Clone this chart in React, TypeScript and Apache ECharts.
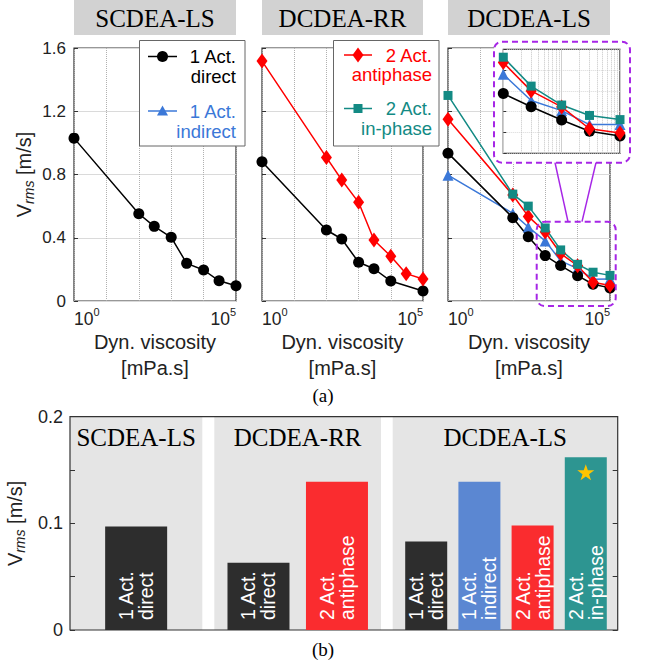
import React, { useEffect, useRef } from 'react';
import * as echarts from 'echarts';

// ---------- data ----------
const viscosity = [1, 100, 300, 1000, 3000, 10000, 30000, 100000];
const viscosityRRDirect = [1, 100, 300, 1000, 3000, 10000, 100000];
const scLsDirect = [1.03, 0.552, 0.472, 0.403, 0.238, 0.196, 0.128, 0.097];
const rrDirect = [0.88, 0.449, 0.392, 0.245, 0.204, 0.126, 0.063];
const rrAntiphase = [1.517, 0.908, 0.765, 0.624, 0.386, 0.283, 0.173, 0.139];
const lsDirect = [0.935, 0.527, 0.406, 0.287, 0.224, 0.16, 0.106, 0.083];
const lsIndirect = [0.796, 0.554, 0.468, 0.38, 0.254, 0.205, 0.138, 0.139];
const lsAntiphase = [1.15, 0.67, 0.535, 0.436, 0.3, 0.223, 0.118, 0.098];
const lsInphase = [1.3, 0.676, 0.6, 0.462, 0.323, 0.232, 0.182, 0.162];
const insetMinViscosity = 1000;
const insetMinorGrid = [2000, 3000, 4000, 5000, 6000, 7000, 8000, 9000, 20000, 30000, 40000, 50000, 60000, 70000, 80000, 90000];

const groups = ['SCDEA-LS', 'DCDEA-RR', 'DCDEA-LS'];
const barLabelsSC = ['1 Act.\ndirect'];
const barValuesSC = [0.097];
const barLabelsRR = ['1 Act.\ndirect', '2 Act.\nantiphase'];
const barValuesRR = [0.063, 0.139];
const barLabelsLS = ['1 Act.\ndirect', '1 Act.\nindirect', '2 Act.\nantiphase', '2 Act.\nin-phase'];
const barValuesLS = [0.083, 0.139, 0.098, 0.162];
const bestIndexLS = 3;

// ---------- styles ----------
const FONT = "'Liberation Sans', Arial, Helvetica, sans-serif";
const SERIF = "'Liberation Serif', 'Times New Roman', Times, serif";
const C_BLACK = '#000000';
const C_BLUE = '#3b78d8';
const C_RED = '#ff0000';
const C_TEAL = '#138a84';
const BAR_DARK = '#2d2d2d';
const BAR_RED = '#fa2c2f';
const BAR_BLUE = '#5b87d2';
const BAR_TEAL = '#2d9591';
const PURPLE = '#a626e6';
const TXT = '#222222';

const zip = (xs: number[], ys: number[]) => xs.map((x, i) => [x, ys[i]]);

const barColor = (label: string) => {
  if (label.includes('indirect')) return BAR_BLUE;
  if (label.includes('antiphase')) return BAR_RED;
  if (label.includes('in-phase')) return BAR_TEAL;
  return BAR_DARK;
};

const yNameRich = {
  v: { fontSize: 20, fontFamily: FONT, color: TXT, lineHeight: 24 },
  s: { fontSize: 14, fontStyle: 'italic', fontFamily: FONT, color: TXT, verticalAlign: 'bottom' },
  n: { fontSize: 20, fontFamily: FONT, color: TXT, lineHeight: 24 },
};
const yName = '{v|V}{s|rms}{n| [m/s]}';

function buildOption() {
  const panelLeft = [74, 262, 448];
  const panelWidth = [162, 161, 162];
  const pTop = 48;
  const pHeight = 253;

  const grids: any[] = [];
  const xAxes: any[] = [];
  const yAxes: any[] = [];
  const series: any[] = [];

  // ---- top panels ----
  for (let i = 0; i < 3; i++) {
    grids.push({
      left: panelLeft[i], top: pTop, width: panelWidth[i], height: pHeight,
      show: true, borderColor: '#333', borderWidth: 1.2, backgroundColor: 'transparent',
      outerBoundsMode: 'none',
    });
    xAxes.push({
      type: 'log', logBase: 10, min: 1, max: 100000, gridIndex: i, splitNumber: 5,
      axisLine: { show: false }, axisTick: { show: false },
      splitLine: { show: true, lineStyle: { type: 'dotted', color: '#b0b0b0', width: 1 } },
      axisLabel: {
        margin: 5,
        alignMinLabel: 'left',
        alignMaxLabel: 'right',
        formatter: (v: number) => {
          const e = Math.round(Math.log10(v));
          if (e === 0 || e === 5) return `{b|10}{s|${e}}`;
          return '';
        },
        rich: {
          b: { fontSize: 17.5, fontFamily: FONT, color: TXT, lineHeight: 26 },
          s: { fontSize: 11, fontFamily: FONT, color: TXT, verticalAlign: 'top' },
        },
      },
      name: 'Dyn. viscosity\n[mPa.s]', nameLocation: 'middle', nameGap: 26,
      nameTextStyle: { fontSize: 20, lineHeight: 26, fontFamily: FONT, color: TXT },
    });
    yAxes.push({
      type: 'value', min: 0, max: 1.6, interval: 0.4, gridIndex: i,
      axisLine: { show: false },
      axisTick: { show: true, inside: true, length: 4, lineStyle: { color: '#333' } },
      axisLabel: { show: i === 0, fontSize: 17, fontFamily: FONT, color: TXT, margin: 8 },
      splitLine: { show: true, lineStyle: { color: '#dadada', type: 'solid' } },
      name: i === 0 ? yName : '', nameLocation: 'middle', nameGap: 38, nameRotate: 90,
      nameTextStyle: { rich: yNameRich },
    });
  }

  // ---- inset ----
  grids.push({
    left: 503.3, top: 49.3, width: 116.7, height: 104,
    show: true, backgroundColor: '#ffffff', borderColor: '#222', borderWidth: 1.2, z: 4,
    outerBoundsMode: 'none',
  });
  xAxes.push({
    type: 'log', logBase: 10, min: insetMinViscosity, max: 100000, gridIndex: 3, z: 4,
    axisLine: { show: false }, axisTick: { show: false }, axisLabel: { show: false },
    splitLine: { show: true, lineStyle: { color: '#cfcfcf', type: 'solid' } },
  });
  yAxes.push({
    type: 'value', min: 0, max: 0.5, interval: 0.1, gridIndex: 3, z: 4,
    axisLine: { show: false }, axisLabel: { show: false },
    axisTick: { show: true, inside: true, length: 3, lineStyle: { color: '#333' } },
    splitLine: { show: true, lineStyle: { color: '#d8d8d8', type: 'dotted' } },
  });

  const lineSeries = (name: string, xs: number[], ys: number[], color: string, symbol: string, size: any, axis: number, z = 2) => ({
    name, type: 'line', xAxisIndex: axis, yAxisIndex: axis, z,
    data: zip(xs, ys),
    symbol, symbolSize: size,
    itemStyle: { color },
    lineStyle: { color, width: 1.5 },
    emphasis: { disabled: true },
  });

  series.push(lineSeries('1 Act. direct', viscosity, scLsDirect, C_BLACK, 'circle', 11, 0));
  series.push(lineSeries('1 Act. direct', viscosityRRDirect, rrDirect, C_BLACK, 'circle', 11, 1));
  series.push(lineSeries('2 Act. antiphase', viscosity, rrAntiphase, C_RED, 'diamond', [11, 15], 1));
  series.push(lineSeries('1 Act. indirect', viscosity, lsIndirect, C_BLUE, 'triangle', 11, 2));
  series.push(lineSeries('1 Act. direct', viscosity, lsDirect, C_BLACK, 'circle', 11, 2));
  series.push(lineSeries('2 Act. antiphase', viscosity, lsAntiphase, C_RED, 'diamond', [11, 15], 2));
  series.push(lineSeries('2 Act. in-phase', viscosity, lsInphase, C_TEAL, 'rect', 9, 2));

  // inset (same data, viscosity >= insetMinViscosity)
  const keep = viscosity.map((v, i) => (v >= insetMinViscosity ? i : -1)).filter((i) => i >= 0);
  const sub = (arr: number[]) => keep.map((i) => arr[i]);
  const insX = sub(viscosity);
  series.push({
    type: 'line', xAxisIndex: 3, yAxisIndex: 3, z: 4.5,
    data: zip(insX, sub(lsDirect)), showSymbol: false, symbol: 'none',
    lineStyle: { opacity: 0 }, silent: true,
    markLine: {
      silent: true, symbol: ['none', 'none'], label: { show: false },
      lineStyle: { type: 'dotted', color: '#c4c4c4', width: 1 },
      emphasis: { disabled: true },
      data: insetMinorGrid.map((v) => ({ xAxis: v })),
    },
  });
  series.push(lineSeries('1 Act. indirect', insX, sub(lsIndirect), C_BLUE, 'triangle', 11, 3, 5));
  series.push(lineSeries('1 Act. direct', insX, sub(lsDirect), C_BLACK, 'circle', 11, 3, 5));
  series.push(lineSeries('2 Act. antiphase', insX, sub(lsAntiphase), C_RED, 'diamond', [11, 15], 3, 5));
  series.push(lineSeries('2 Act. in-phase', insX, sub(lsInphase), C_TEAL, 'rect', 9, 3, 5));

  // ---- bottom bar chart ----
  const bTop = 416.7;
  const bHeight = 213.3;
  const regions = [
    { left: 70, width: 132.3, min: -0.5, max: 0.5, barWidth: 62, labels: barLabelsSC, values: barValuesSC },
    { left: 214.3, width: 166.7, min: -0.563, max: 1.561, barWidth: 62, labels: barLabelsRR, values: barValuesRR },
    { left: 392.7, width: 225, min: -0.63, max: 3.6, barWidth: 42, labels: barLabelsLS, values: barValuesLS },
  ];
  regions.forEach((r, k) => {
    const gi = 4 + k;
    grids.push({
      left: r.left, top: bTop, width: r.width, height: bHeight,
      show: true, backgroundColor: '#e5e5e5', borderWidth: 0, outerBoundsMode: 'none',
    });
    xAxes.push({ type: 'value', gridIndex: gi, min: r.min, max: r.max, show: false });
    yAxes.push({ type: 'value', gridIndex: gi, min: 0, max: 0.2, show: false });
    const s: any = {
      name: groups[k], type: 'bar', xAxisIndex: gi, yAxisIndex: gi, barWidth: r.barWidth,
      emphasis: { disabled: true },
      data: r.labels.map((lab, i) => ({ name: lab, value: [i, r.values[i]], itemStyle: { color: barColor(lab) } })),
      label: {
        show: true, position: 'insideBottom', rotate: 90, align: 'left', verticalAlign: 'middle',
        distance: 10, color: '#ffffff', fontSize: 19.5, lineHeight: 20, fontFamily: FONT,
        formatter: (p: any) => p.name,
      },
    };
    if (k === 2) {
      s.markPoint = {
        silent: true,
        symbol: 'path://M50,0 L61.8,35.1 L98.8,35.1 L68.8,57 L80.2,92.1 L50,70.5 L19.8,92.1 L31.2,57 L1.2,35.1 L38.2,35.1 Z',
        symbolSize: [17, 16],
        symbolOffset: [0, 15],
        itemStyle: { color: '#ffc400' },
        label: { show: false },
        data: [{ coord: [bestIndexLS, r.values[bestIndexLS]] }],
      };
    }
    series.push(s);
  });

  // frame grid with y axis
  grids.push({
    left: 70, top: bTop, width: 547.7, height: bHeight,
    show: true, backgroundColor: 'transparent', borderColor: '#333', borderWidth: 1.2, z: 1,
    outerBoundsMode: 'none',
  });
  xAxes.push({ type: 'value', gridIndex: 7, min: 0, max: 1, show: false });
  yAxes.push({
    type: 'value', gridIndex: 7, min: 0, max: 0.2, interval: 0.05, z: 1,
    axisLine: { show: false },
    axisTick: { show: true, inside: true, length: 5, lineStyle: { color: '#333' } },
    splitLine: { show: false },
    axisLabel: {
      fontSize: 18, fontFamily: FONT, color: TXT, margin: 7,
      formatter: (v: number) => (Math.abs(v * 10 - Math.round(v * 10)) < 1e-6 ? String(Math.round(v * 10) / 10) : ''),
    },
    name: yName, nameLocation: 'middle', nameGap: 35, nameRotate: 90,
    nameTextStyle: { rich: yNameRich },
  });
  yAxes.push({
    type: 'value', gridIndex: 7, min: 0, max: 0.2, interval: 0.05, position: 'right', z: 1,
    axisLine: { show: false }, axisLabel: { show: false }, splitLine: { show: false },
    axisTick: { show: true, inside: true, length: 5, lineStyle: { color: '#333' } },
  });

  // ---- graphic annotations ----
  const g: any[] = [];
  for (let i = 0; i < 3; i++) {
    g.push({ type: 'rect', z: 1, shape: { x: panelLeft[i], y: 0, width: panelWidth[i], height: 35 }, style: { fill: '#d2d2d2' } });
    g.push({
      type: 'text', z: 2, x: panelLeft[i] + panelWidth[i] / 2, y: 18,
      style: { text: groups[i], fontSize: 25, fontFamily: SERIF, fill: '#000', align: 'center', verticalAlign: 'middle' },
    });
  }
  // callout
  g.push({ type: 'rect', z: 3, shape: { x: 494, y: 41.7, width: 136, height: 121, r: 8 }, style: { fill: '#fff', stroke: PURPLE, lineWidth: 2, lineDash: [6, 4] } });
  g.push({ type: 'rect', z: 3, shape: { x: 536.7, y: 221.7, width: 79, height: 84.3, r: 8 }, style: { fill: 'none', stroke: PURPLE, lineWidth: 2, lineDash: [6, 4] } });
  g.push({ type: 'line', z: 3, shape: { x1: 555, y1: 162.7, x2: 568, y2: 221.7 }, style: { stroke: PURPLE, lineWidth: 1.5 } });
  g.push({ type: 'line', z: 3, shape: { x1: 596, y1: 162.7, x2: 582, y2: 221.7 }, style: { stroke: PURPLE, lineWidth: 1.5 } });

  // legends (each line its own text)
  const legendLines = (x: number, yCenter: number, lines: string[], fill: string) =>
    lines.map((t, j) => ({
      type: 'text', z: 11, x, y: yCenter + j * 19.5,
      style: { text: t, fill, fontSize: 18.5, fontFamily: FONT, align: 'right', verticalAlign: 'middle' },
    }));
  const lineIcon = (x1: number, x2: number, y: number, stroke: string) => ({
    type: 'line', z: 11, shape: { x1, y1: y, x2, y2: y }, style: { stroke, lineWidth: 1.5 },
  });
  // legend 1
  g.push({ type: 'rect', z: 10, shape: { x: 139.5, y: 40.5, width: 105.5, height: 105.5 }, style: { fill: '#fff', stroke: '#666', lineWidth: 1 } });
  g.push(lineIcon(148, 177, 56.5, C_BLACK));
  g.push({ type: 'circle', z: 11, shape: { cx: 162.5, cy: 56.5, r: 5.5 }, style: { fill: C_BLACK } });
  g.push(...legendLines(236, 56.5, ['1 Act.', 'direct'], C_BLACK));
  g.push(lineIcon(148, 177, 111, C_BLUE));
  g.push({ type: 'polygon', z: 11, shape: { points: [[162.5, 105.5], [157, 115.5], [168, 115.5]] }, style: { fill: C_BLUE } });
  g.push(...legendLines(236, 111.5, ['1 Act.', 'indirect'], C_BLUE));
  // legend 2
  g.push({ type: 'rect', z: 10, shape: { x: 333.5, y: 40.5, width: 105.5, height: 105.5 }, style: { fill: '#fff', stroke: '#666', lineWidth: 1 } });
  g.push(lineIcon(344, 372, 55, C_RED));
  g.push({ type: 'polygon', z: 11, shape: { points: [[358, 47.5], [363.5, 55], [358, 62.5], [352.5, 55]] }, style: { fill: C_RED } });
  g.push(...legendLines(432, 55, ['2 Act.', 'antiphase'], C_RED));
  g.push(lineIcon(344, 372, 108.5, C_TEAL));
  g.push({ type: 'rect', z: 11, shape: { x: 353.5, y: 104, width: 9, height: 9 }, style: { fill: C_TEAL } });
  g.push(...legendLines(432, 108.5, ['2 Act.', 'in-phase'], C_TEAL));

  // sub-figure captions
  g.push({ type: 'text', x: 323, y: 395, style: { text: '(a)', fontSize: 19, fontFamily: SERIF, fill: '#000', align: 'center', verticalAlign: 'middle' } });
  g.push({ type: 'text', x: 323, y: 649, style: { text: '(b)', fontSize: 19, fontFamily: SERIF, fill: '#000', align: 'center', verticalAlign: 'middle' } });

  // bottom region titles
  regions.forEach((r, k) => {
    g.push({
      type: 'text', z: 5, x: r.left + r.width / 2, y: 437,
      style: { text: groups[k], fontSize: 25, fontFamily: SERIF, fill: '#000', align: 'center', verticalAlign: 'middle' },
    });
  });

  return {
    animation: false,
    backgroundColor: '#ffffff',
    textStyle: { fontFamily: FONT },
    grid: grids,
    xAxis: xAxes,
    yAxis: yAxes,
    series,
    graphic: { elements: g },
  };
}

export default function App() {
  const ref = useRef<HTMLDivElement>(null);
  useEffect(() => {
    if (!ref.current) return;
    const chart = echarts.init(ref.current, null, { renderer: 'svg' });
    chart.setOption(buildOption() as any);
    return () => chart.dispose();
  }, []);
  return (
    <div
      ref={ref}
      style={{ position: 'fixed', left: 0, top: 0, width: 646, height: 662, background: '#fff' }}
    />
  );
}
